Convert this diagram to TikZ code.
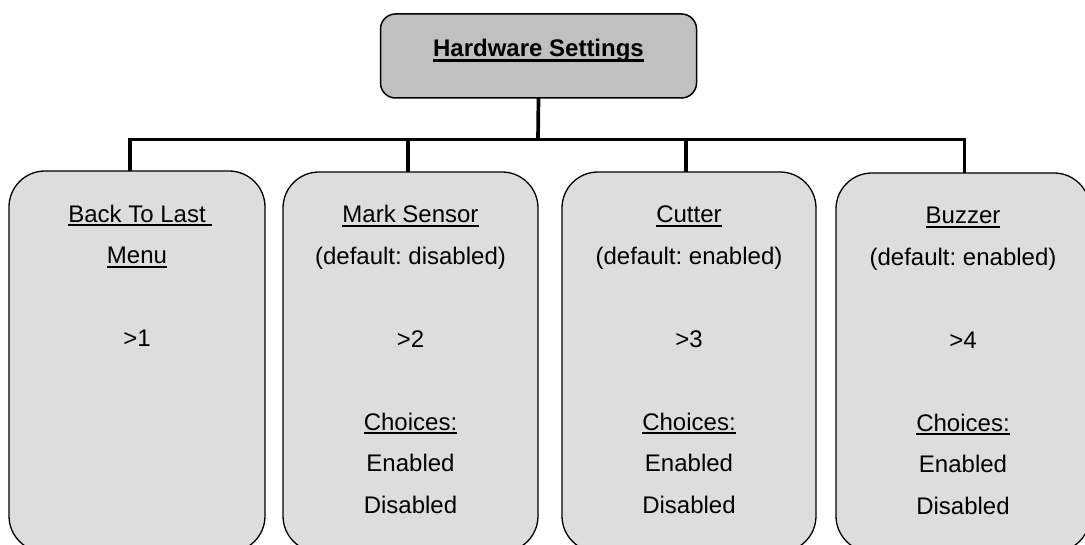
\documentclass[tikz,border=0pt]{standalone}
\usepackage{fontspec}
\setmainfont{Liberation Sans}
\frenchspacing
\definecolor{titlefill}{HTML}{C0C0C0}
\definecolor{boxfill}{HTML}{DDDDDD}
\newcommand\myul[1]{\setbox0=\hbox{#1}\rlap{\rule[-4pt]{\wd0}{2.2pt}}\box0}
\newcommand\mytul[1]{\setbox0=\hbox{#1}\rlap{\rule[-4.8pt]{\wd0}{2.7pt}}\box0}
\newcommand\mylines[1]{\vtop{\baselineskip=41.5pt\lineskiplimit=-100pt\halign{\hfil##\hfil\cr#1\crcr}}}
\begin{document}
\begin{tikzpicture}[x=1pt,y=-1pt,
  childbox/.style={draw=black, line width=1.3pt, fill=boxfill, rounded corners=36pt, minimum width=255pt, inner sep=0pt, outer sep=0pt},
  titlebox/.style={draw=black, line width=1.5pt, fill=titlefill, rounded corners=15pt, minimum width=316pt, minimum height=84pt, inner sep=0pt, outer sep=0pt},
  txt/.style={anchor=base, inner sep=0pt, font=\frenchspacing\fontsize{24pt}{41.5pt}\selectfont},
  conn/.style={line width=3.7pt, draw=black}]
\useasboundingbox (0,0) rectangle (1085,545);
\clip (0,0) rectangle (1085,545);
\node[titlebox] (title) at (538.5,56) {};
\node[txt, font=\bfseries\fontsize{24pt}{29pt}\selectfont] (titletext) at (538.5,57) {\mytul{Hardware Settings}};

\node[childbox, minimum width=256pt, minimum height=381pt] (b1) at (137,361.5) {};
\node[childbox, minimum height=380pt] (b2) at (410.5,362) {};
\node[childbox, minimum width=254pt, minimum height=380pt] (b3) at (689,362) {};
\node[childbox, minimum width=254pt, minimum height=379pt] (b4) at (963,362.5) {};

\node[txt] (t1) at (137,222.5) {\mylines{\myul{Back To Last}\rlap{\myul{\ }}\cr \myul{Menu}\cr \cr >1}};
\node[txt] (t2) at (410.5,223) {\mylines{\myul{Mark Sensor}\cr (default: disabled)\cr \cr >2\cr \cr \myul{Choices:}\cr Enabled\cr Disabled}};
\node[txt] (t3) at (689,223) {\mylines{\myul{Cutter}\cr (default: enabled)\cr \cr >3\cr \cr \myul{Choices:}\cr Enabled\cr Disabled}};
\node[txt] (t4) at (963,224) {\mylines{\myul{Buzzer}\cr (default: enabled)\cr \cr >4\cr \cr \myul{Choices:}\cr Enabled\cr Disabled}};

\coordinate (hub) at (538,139.5);
\draw[conn] (title.south) -- (hub);
\draw[conn] (hub) -| ([xshift=-7pt]b1.north);
\draw[conn] (hub) -| ([xshift=-2.5pt]b2.north);
\draw[conn] (hub) -| ([xshift=-3pt]b3.north);
\draw[conn] (hub) -| ([xshift=1.5pt]b4.north);
\end{tikzpicture}
\end{document}
